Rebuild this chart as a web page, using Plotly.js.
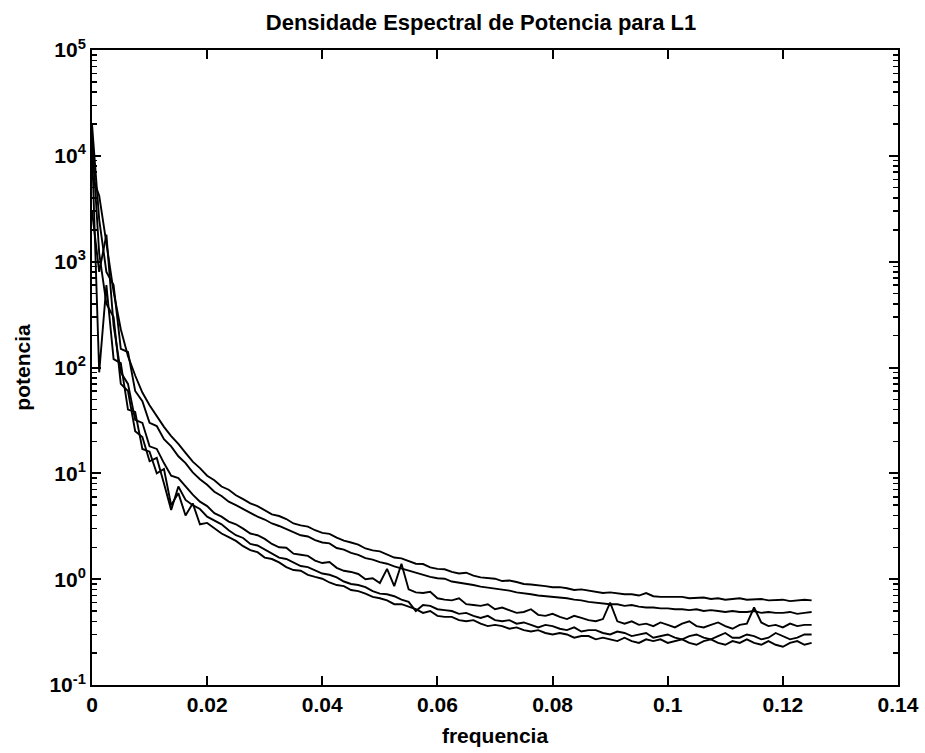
<!DOCTYPE html>
<html>
<head>
<meta charset="utf-8">
<script src="https://cdn.plot.ly/plotly-3.0.1.min.js"></script>
<style>html,body{margin:0;padding:0;background:#fff;}#chart{width:925px;height:753px;}</style>
</head>
<body>
<div id="chart"></div>
<script>
// frequency axis (shared by all five spectra)
const frequencia = [
0,0.00125,0.0025,0.00375,0.005,0.00625,0.0075,0.00875,0.01,0.01125,
0.0125,0.01375,0.015,0.01625,0.0175,0.01875,0.02,0.02125,0.0225,0.02375,
0.025,0.02625,0.0275,0.02875,0.03,0.03125,0.0325,0.03375,0.035,0.03625,
0.0375,0.03875,0.04,0.04125,0.0425,0.04375,0.045,0.04625,0.0475,0.04875,
0.05,0.05125,0.0525,0.05375,0.055,0.05625,0.0575,0.05875,0.06,0.06125,
0.0625,0.06375,0.065,0.06625,0.0675,0.06875,0.07,0.07125,0.0725,0.07375,
0.075,0.07625,0.0775,0.07875,0.08,0.08125,0.0825,0.08375,0.085,0.08625,
0.0875,0.08875,0.09,0.09125,0.0925,0.09375,0.095,0.09625,0.0975,0.09875,
0.1,0.10125,0.1025,0.10375,0.105,0.10625,0.1075,0.10875,0.11,0.11125,
0.1125,0.11375,0.115,0.11625,0.1175,0.11875,0.12,0.12125,0.1225,0.12375,
0.125];

const potencia1 = [
6500,4200,1500,520,230,128,84,58,44,34.5,
27.5,22.5,19.0,15.6,12.9,11.2,9.5,8.6,7.5,7.0,
6.2,5.7,5.2,4.9,4.5,4.1,3.95,3.70,3.36,3.22,
3.14,2.90,2.74,2.68,2.47,2.31,2.22,2.12,1.95,1.87,
1.83,1.71,1.60,1.57,1.47,1.40,1.39,1.29,1.25,1.24,
1.17,1.13,1.15,1.08,1.04,1.03,1.01,0.96,0.97,0.94,
0.90,0.89,0.88,0.86,0.84,0.84,0.82,0.79,0.80,0.78,
0.76,0.74,0.75,0.73,0.72,0.72,0.70,0.74,0.69,0.68,
0.68,0.67,0.68,0.66,0.66,0.67,0.65,0.66,0.64,0.65,
0.66,0.64,0.64,0.65,0.63,0.63,0.64,0.62,0.63,0.64,
0.63];

const potencia2 = [
20000,2500,800,600,150,140,60,48,30,28,
21,18,14.5,12.5,10.2,8.8,7.8,6.7,6.1,5.4,
5.0,4.6,4.25,3.90,3.66,3.36,3.18,2.98,2.77,2.60,
2.53,2.34,2.22,2.18,1.97,1.90,1.77,1.70,1.58,1.53,
1.45,1.40,1.32,1.26,1.19,1.15,1.10,1.05,1.02,1.01,
0.95,0.93,0.90,0.88,0.85,0.83,0.81,0.80,0.78,0.75,
0.74,0.72,0.70,0.69,0.68,0.66,0.66,0.64,0.63,0.61,
0.60,0.59,0.58,0.58,0.56,0.57,0.55,0.54,0.54,0.53,
0.53,0.52,0.52,0.51,0.52,0.50,0.51,0.50,0.49,0.50,
0.49,0.49,0.50,0.48,0.49,0.48,0.48,0.49,0.47,0.48,
0.49];

const potencia3 = [
3000,800,1800,250,90,70,32,30,18,17,
12.5,9.5,9.0,7.5,6.3,5.4,4.9,4.2,3.9,3.5,
3.3,3.0,2.7,2.6,2.4,2.15,2.0,1.98,1.74,1.70,
1.66,1.50,1.42,1.45,1.28,1.20,1.17,1.12,1.00,1.02,
0.92,1.25,0.86,1.40,0.80,0.75,0.74,0.76,0.66,0.64,
0.63,0.66,0.58,0.57,0.56,0.58,0.52,0.54,0.51,0.48,
0.49,0.52,0.46,0.45,0.47,0.44,0.42,0.45,0.43,0.41,
0.40,0.42,0.60,0.40,0.38,0.40,0.37,0.38,0.36,0.39,
0.37,0.35,0.38,0.40,0.36,0.35,0.37,0.39,0.36,0.34,
0.37,0.38,0.54,0.39,0.36,0.37,0.35,0.38,0.36,0.37,
0.37];

const potencia4 = [
15000,1200,400,300,70,60,25,22,13,14,
8,4.5,7.5,5.6,5.0,4.6,3.9,3.6,3.3,2.9,
2.6,2.45,2.15,2.08,1.90,1.74,1.60,1.55,1.43,1.33,
1.30,1.22,1.13,1.10,1.04,0.95,0.90,0.88,0.84,0.77,
0.73,0.72,0.69,0.64,0.61,0.50,0.57,0.56,0.52,0.51,
0.50,0.47,0.48,0.45,0.43,0.45,0.41,0.40,0.41,0.38,
0.39,0.37,0.35,0.37,0.36,0.34,0.33,0.35,0.32,0.33,
0.33,0.31,0.30,0.32,0.31,0.29,0.30,0.31,0.28,0.29,
0.30,0.28,0.27,0.29,0.30,0.28,0.27,0.29,0.31,0.28,
0.28,0.30,0.29,0.27,0.28,0.31,0.29,0.27,0.28,0.30,
0.30];

const potencia5 = [
12000,90,600,120,110,40,38,17,16,10,
11,5.0,6.5,4.0,5.2,3.3,3.4,3.0,2.7,2.5,
2.3,2.05,1.88,1.80,1.60,1.55,1.44,1.30,1.22,1.20,
1.10,1.05,1.01,0.93,0.88,0.86,0.79,0.77,0.73,0.68,
0.66,0.63,0.58,0.58,0.55,0.52,0.48,0.50,0.45,0.44,
0.44,0.41,0.40,0.41,0.38,0.36,0.37,0.36,0.34,0.35,
0.33,0.32,0.33,0.31,0.30,0.31,0.30,0.28,0.29,0.29,
0.27,0.28,0.27,0.26,0.28,0.26,0.25,0.27,0.26,0.27,
0.25,0.26,0.27,0.25,0.24,0.26,0.27,0.25,0.24,0.26,
0.25,0.27,0.25,0.24,0.26,0.24,0.23,0.25,0.26,0.24,
0.25];

const series = [potencia1, potencia2, potencia3, potencia4, potencia5];

const yTickVals = [0.1, 1, 10, 100, 1000, 10000, 100000];
const yTickText = ['10<sup>-1</sup>','10<sup>0</sup>','10<sup>1</sup>','10<sup>2</sup>','10<sup>3</sup>','10<sup>4</sup>','10<sup>5</sup>'];

// minor log tick positions (2..9 within each decade)
const yMinor = [];
for (let d = -1; d < 5; d++) {
  for (let m = 2; m <= 9; m++) yMinor.push(m * Math.pow(10, d));
}

const traces = series.map(s => ({
  x: frequencia, y: s, type: 'scatter', mode: 'lines',
  line: {color: 'black', width: 1.9}, hoverinfo: 'skip'
}));

const axisCommon = {
  showgrid: false, zeroline: false, showline: true, linecolor: 'black', linewidth: 2,
  mirror: 'allticks', ticks: 'inside', tickcolor: 'black', tickwidth: 2, ticklen: 9,
  tickfont: {size: 21, color: 'black', weight: 'bold'}
};

const layout = {
  width: 925, height: 753,
  margin: {l: 92, r: 27, t: 50, b: 68},
  paper_bgcolor: 'white', plot_bgcolor: 'white',
  showlegend: false,
  font: {family: 'Liberation Sans, Arial, sans-serif', color: 'black', size: 21},
  title: {text: 'Densidade Espectral de Potencia para L1', font: {size: 22, color: 'black', weight: 'bold'},
          xref: 'container', x: 0.52, xanchor: 'center', yref: 'container', y: 0.971, yanchor: 'middle'},
  xaxis: Object.assign({}, axisCommon, {
    range: [0, 0.14], tickmode: 'linear', tick0: 0, dtick: 0.02,
    title: {text: 'frequencia', font: {size: 21, weight: 'bold'}, standoff: 13}
  }),
  yaxis: Object.assign({}, axisCommon, {
    type: 'log', range: [-1, 5], tickmode: 'array', tickvals: yTickVals, ticktext: yTickText,
    minor: {tickmode: 'array', tickvals: yMinor, ticks: 'inside', ticklen: 5, tickwidth: 1.5, tickcolor: 'black', showgrid: false},
    title: {text: 'potencia', font: {size: 21, weight: 'bold'}, standoff: 13}
  })
};

Plotly.newPlot('chart', traces, layout, {displayModeBar: false, staticPlot: true});
</script>
</body>
</html>
